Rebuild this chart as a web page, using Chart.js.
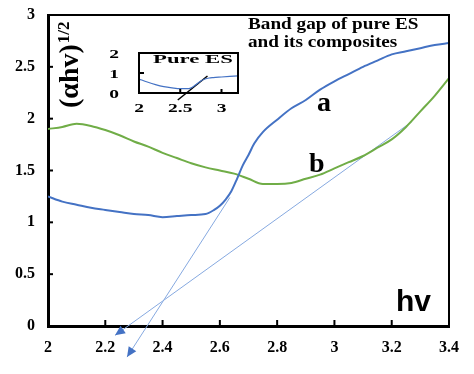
<!DOCTYPE html>
<html>
<head>
<meta charset="utf-8">
<script src="https://cdn.jsdelivr.net/npm/chart.js@4.4.1/dist/chart.umd.min.js"></script>
<style>
  body { margin: 0; background: #fff; }
  #wrap { position: relative; width: 474px; height: 374px; }
  #main { position: absolute; left: 0; top: 0; }
  #inset { position: absolute; left: 95px; top: 40px; }
</style>
</head>
<body>
<div id="wrap">
  <canvas id="main" width="474" height="374"></canvas>
  <canvas id="inset" width="160" height="80"></canvas>
</div>
<script>
// curve a (blue)
const hvA = [2.00, 2.05, 2.10, 2.15, 2.20, 2.25, 2.30, 2.35, 2.40, 2.45, 2.50, 2.55, 2.58, 2.60, 2.62, 2.64, 2.66, 2.68, 2.70, 2.72, 2.75, 2.80, 2.85, 2.90, 2.95, 3.00, 3.05, 3.10, 3.15, 3.20, 3.25, 3.30, 3.35, 3.40];
const valA = [1.25, 1.20, 1.17, 1.14, 1.12, 1.10, 1.08, 1.07, 1.05, 1.06, 1.07, 1.08, 1.12, 1.16, 1.22, 1.30, 1.42, 1.55, 1.65, 1.76, 1.87, 1.99, 2.10, 2.18, 2.28, 2.36, 2.43, 2.50, 2.56, 2.62, 2.65, 2.68, 2.71, 2.73];
// curve b (green)
const hvB = [2.00, 2.05, 2.10, 2.15, 2.20, 2.25, 2.30, 2.35, 2.40, 2.45, 2.50, 2.55, 2.60, 2.65, 2.70, 2.75, 2.80, 2.85, 2.90, 2.95, 3.00, 3.05, 3.10, 3.15, 3.20, 3.25, 3.30, 3.35, 3.40];
const valB = [1.90, 1.92, 1.95, 1.93, 1.89, 1.84, 1.78, 1.73, 1.67, 1.62, 1.57, 1.53, 1.50, 1.47, 1.42, 1.37, 1.37, 1.38, 1.42, 1.46, 1.52, 1.58, 1.64, 1.72, 1.80, 1.92, 2.07, 2.22, 2.39];
// tangent lines (first point = arrow end)
const tanAx = [2.276, 2.635];
const tanAy = [-0.30, 1.24];
const tanBx = [2.234, 3.27];
const tanBy = [-0.09, 1.97];
// inset: pure ES
const insetHv = [2.0, 2.1, 2.2, 2.3, 2.4, 2.5, 2.6, 2.65, 2.7, 2.75, 2.8, 2.85, 2.9, 3.0, 3.1, 3.2];
const insetVal = [0.70, 0.55, 0.42, 0.32, 0.26, 0.22, 0.22, 0.30, 0.45, 0.60, 0.70, 0.75, 0.77, 0.80, 0.83, 0.86];
const insetTanX = [2.47, 2.83];
const insetTanY = [-0.35, 0.85];
const insetXTicks = [2, 2.5, 3];
const insetYTicks = [0, 1, 2];

const SERIF = '"Liberation Serif", "Times New Roman", serif';
const SANS = '"Liberation Sans", Arial, sans-serif';

function pts(xs, ys) {
  return xs.map((x, i) => ({ x: x, y: ys[i] }));
}

function fmt(v) {
  return String(Number(v.toFixed(1)));
}

function stretchText(ctx, txt, x, y, sx) {
  ctx.save();
  ctx.translate(x, y);
  ctx.scale(sx, 1);
  ctx.fillText(txt, 0, 0);
  ctx.restore();
}

// arrow heads at the first point of the tangent lines
const arrows = {
  id: 'arrows',
  afterDatasetsDraw(chart) {
    const ctx = chart.ctx;
    [2, 3].forEach(i => {
      const el = chart.getDatasetMeta(i).data;
      const tip = el[0], from = el[1];
      const ang = Math.atan2(tip.y - from.y, tip.x - from.x);
      const L = 10, W = 4.5;
      ctx.save();
      ctx.translate(tip.x, tip.y);
      ctx.rotate(ang);
      ctx.fillStyle = '#4472c4';
      ctx.beginPath();
      ctx.moveTo(0, 0);
      ctx.lineTo(-L, -W);
      ctx.lineTo(-L, W);
      ctx.closePath();
      ctx.fill();
      ctx.restore();
    });
  }
};

// tick marks inside + frame + texts
const mainDecor = {
  id: 'mainDecor',
  afterDraw(chart) {
    const ctx = chart.ctx;
    const a = chart.chartArea;
    const sx = chart.scales.x, sy = chart.scales.y;
    ctx.save();
    ctx.strokeStyle = '#000';
    ctx.lineWidth = 2;
    sx.ticks.forEach(t => {
      const px = sx.getPixelForValue(t.value);
      ctx.beginPath(); ctx.moveTo(px, a.bottom); ctx.lineTo(px, a.bottom - 6); ctx.stroke();
    });
    sy.ticks.forEach(t => {
      const py = sy.getPixelForValue(t.value);
      ctx.beginPath(); ctx.moveTo(a.left, py); ctx.lineTo(a.left + 5, py); ctx.stroke();
    });
    // top and right frame
    ctx.beginPath();
    ctx.moveTo(a.left, a.top); ctx.lineTo(a.right, a.top); ctx.lineTo(a.right, a.bottom);
    ctx.stroke();

    ctx.fillStyle = '#000';
    ctx.textAlign = 'left';
    ctx.textBaseline = 'alphabetic';
    ctx.font = 'bold 16px ' + SERIF;
    stretchText(ctx, 'Band gap of pure ES', 248, 29, 1.2);
    stretchText(ctx, 'and its composites', 248, 47, 1.2);
    ctx.font = 'bold 28px ' + SERIF;
    ctx.fillText('a', 317, 111);
    ctx.fillText('b', 309, 172);
    ctx.font = 'bold 30px ' + SANS;
    ctx.fillText('hv', 396, 311);

    // y title, rotated
    ctx.save();
    ctx.translate(78, 108);
    ctx.rotate(-Math.PI / 2);
    ctx.font = 'bold 28px ' + SERIF;
    ctx.fillText('(\u03B1hv)', 0, 0);
    const w = ctx.measureText('(\u03B1hv)').width;
    ctx.font = 'bold 17px ' + SERIF;
    ctx.fillText('1/2', w + 1, -9);
    ctx.restore();
    ctx.restore();
  }
};

new Chart(document.getElementById('main').getContext('2d'), {
  type: 'line',
  data: {
    datasets: [
      {
        label: 'a',
        data: pts(hvA, valA),
        borderColor: '#4472c4',
        borderWidth: 2,
        pointRadius: 0,
        cubicInterpolationMode: 'monotone'
      },
      {
        label: 'b',
        data: pts(hvB, valB),
        borderColor: '#70ad47',
        borderWidth: 2,
        pointRadius: 0,
        cubicInterpolationMode: 'monotone'
      },
      {
        label: 'tangent a',
        data: pts(tanAx, tanAy),
        borderColor: '#86a9e0',
        borderWidth: 1,
        clip: false,
        pointRadius: 0
      },
      {
        label: 'tangent b',
        data: pts(tanBx, tanBy),
        borderColor: '#86a9e0',
        borderWidth: 1,
        clip: false,
        pointRadius: 0
      }
    ]
  },
  options: {
    responsive: false,
    animation: false,
    layout: { padding: { left: 0, top: 15, right: 25, bottom: 0 } },
    plugins: { legend: { display: false }, tooltip: { enabled: false } },
    scales: {
      x: {
        type: 'linear',
        min: 2, max: 3.4,
        afterFit: s => { s.height = 48; },
        grid: { display: true, drawOnChartArea: false, drawTicks: false },
        border: { display: true, color: '#000', width: 3 },
        ticks: { stepSize: 0.2, padding: 12, color: '#000', callback: fmt, font: { family: SERIF, size: 16, weight: 'bold' } }
      },
      y: {
        min: 0, max: 3,
        afterFit: s => { s.width = 48; s.paddingTop = 0; s.paddingBottom = 0; },
        grid: { display: true, drawOnChartArea: false, drawTicks: false },
        border: { display: true, color: '#000', width: 3 },
        ticks: { stepSize: 0.5, padding: 13, color: '#000', callback: fmt, font: { family: SERIF, size: 16, weight: 'bold' } }
      }
    }
  },
  plugins: [arrows, mainDecor]
});

const insetDecor = {
  id: 'insetDecor',
  afterDraw(chart) {
    const ctx = chart.ctx;
    const a = chart.chartArea;
    const sx = chart.scales.x, sy = chart.scales.y;
    ctx.save();
    ctx.strokeStyle = '#000';
    ctx.lineWidth = 2;
    ctx.strokeRect(a.left, a.top, a.right - a.left, a.bottom - a.top);
    insetXTicks.forEach(v => {
      const px = sx.getPixelForValue(v);
      if (v > 2) { ctx.beginPath(); ctx.moveTo(px, a.bottom); ctx.lineTo(px, a.bottom - 4); ctx.stroke(); }
    });
    ctx.beginPath(); ctx.moveTo(a.left, sy.getPixelForValue(1)); ctx.lineTo(a.left + 5, sy.getPixelForValue(1)); ctx.stroke();

    ctx.fillStyle = '#000';
    ctx.font = 'bold 13px ' + SERIF;
    ctx.textBaseline = 'middle';
    insetYTicks.forEach(v => {
      const t = String(v);
      const w = ctx.measureText(t).width * 1.5;
      stretchText(ctx, t, 24 - w, sy.getPixelForValue(v) + 2, 1.5);
    });
    ctx.textBaseline = 'top';
    insetXTicks.forEach(v => {
      const t = String(v);
      const w = ctx.measureText(t).width * 1.5;
      stretchText(ctx, t, sx.getPixelForValue(v) - w / 2, a.bottom + 9, 1.5);
    });
    ctx.font = 'bold 13px ' + SERIF;
    ctx.textBaseline = 'alphabetic';
    stretchText(ctx, 'Pure ES', 58, 23, 1.75);
    ctx.restore();
  }
};

new Chart(document.getElementById('inset').getContext('2d'), {
  type: 'line',
  data: {
    datasets: [
      {
        label: 'Pure ES',
        data: pts(insetHv, insetVal),
        borderColor: '#4472c4',
        borderWidth: 1.2,
        pointRadius: 0,
        cubicInterpolationMode: 'monotone'
      },
      {
        label: 'tangent',
        data: pts(insetTanX, insetTanY),
        borderColor: '#000',
        borderWidth: 1.5,
        pointRadius: 0,
        clip: false
      }
    ]
  },
  options: {
    responsive: false,
    animation: false,
    layout: { padding: { left: 0, top: 13, right: 17, bottom: 0 } },
    plugins: { legend: { display: false }, tooltip: { enabled: false } },
    scales: {
      x: {
        type: 'linear', min: 2, max: 3.2,
        afterFit: s => { s.height = 27; },
        grid: { display: false },
        border: { display: false },
        ticks: { display: false }
      },
      y: {
        min: 0, max: 2,
        afterFit: s => { s.width = 44; },
        grid: { display: false },
        border: { display: false },
        ticks: { display: false }
      }
    }
  },
  plugins: [insetDecor]
});
</script>
</body>
</html>
